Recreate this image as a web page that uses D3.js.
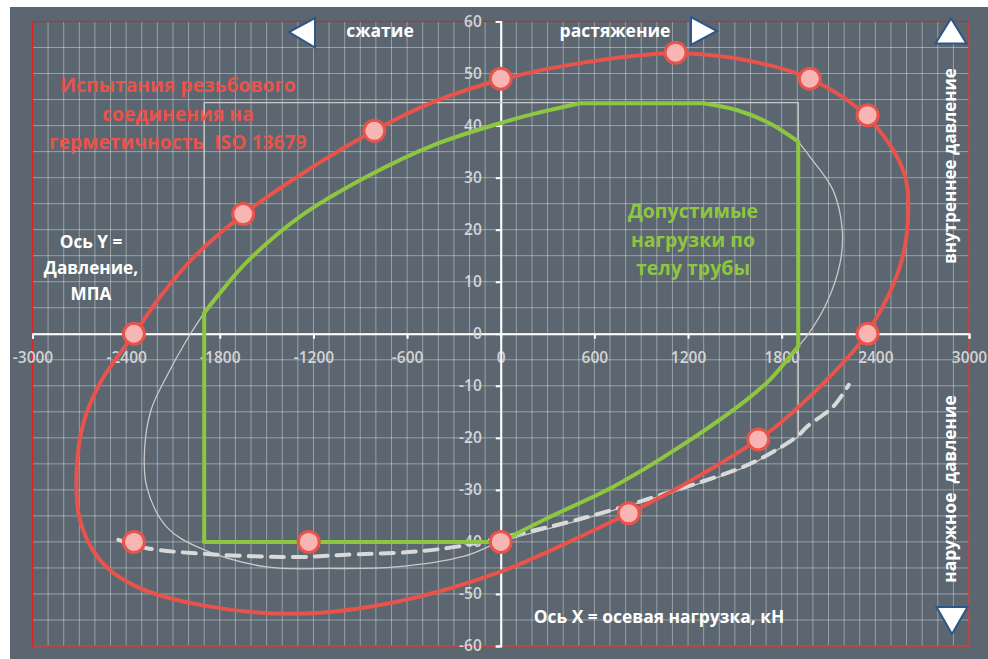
<!DOCTYPE html>
<html>
<head>
<meta charset="utf-8">
<script src="https://cdn.jsdelivr.net/npm/d3@7"></script>
<style>
  body { margin: 0; background: #ffffff; }
  svg { display: block; }
  text { font-family: "Open Sans", "Noto Sans", sans-serif; }
</style>
</head>
<body>
<svg id="chart" width="988" height="659"></svg>
<script>
// Axis ticks
const xTicks = [-3000, -2400, -1800, -1200, -600, 0, 600, 1200, 1800, 2400, 3000];
const yTicks = [60, 50, 40, 30, 20, 10, 0, -10, -20, -30, -40, -50, -60];

// Seal test envelope (ISO 13679), closed curve: [axial load kN, pressure MPa]
const testEnvelope = [
  [0, 48.8], [509, 52], [1118, 53.9], [1600, 52.4], [1981, 49], [2344, 41.8],
  [2577, 31.5], [2611, 23.8], [2557, 12.9], [2344, 0], [2152, -6.9], [1789, -17.2],
  [1650, -20.3], [1148, -29.4], [820, -34.5], [508, -39], [0, -45.7], [-667, -51.5],
  [-1300, -53.8], [-1926, -52.1], [-2354, -48.3], [-2568, -43.5], [-2696, -35.8],
  [-2717, -26.2], [-2674, -17.2], [-2568, -9.5], [-2348, 0], [-2170, 7.6],
  [-1950, 15.2], [-1653, 22.85], [-1286, 30.5], [-812, 39], [-434, 44.5]
];

// Test load points
const testPoints = [
  [-2350, 0], [-1650, 23], [-810, 39], [0, 49], [1120, 54], [1980, 49], [2350, 42],
  [2350, 0], [1650, -20.3], [820, -34.5], [0, -40], [-1230, -40], [-2350, -40]
];

// Pipe body allowable loads (green), pieces with straight edges and curved corners
const bodyLeftEdge   = [[-1900, -40], [-1900, 4]];
const bodyUpperArc   = [[-1900, 4], [-1797, 7.9], [-1626, 13.8], [-1286, 22.5], [-857, 30.2],
                        [-434, 36.2], [0, 40.5], [230, 42.4], [510, 44.3]];
const bodyTop        = [[510, 44.3], [1298, 44.3]];
const bodyRightArc   = [[1298, 44.3], [1511, 43], [1725, 40.4], [1906, 36.9]];
const bodyRightEdge  = [[1906, 36.9], [1906, -2.4]];
const bodyLowerArc   = [[1906, -2.4], [1725, -8.8], [1575, -12.7], [1148, -21.7], [721, -29.4],
                        [294, -35.5], [0, -40]];
const bodyBottom     = [[0, -40], [-1900, -40]];

// Thin grey limit lines
const limitFrame     = [[-1900, -40], [-1900, 44.4], [1906, 44.4], [1906, 36.9]];
const limitFrameLow  = [[1906, -2.4], [1906, -19.8]];
const limitRightArc  = [[1906, 36.9], [1981, 34], [2129, 27.6], [2188, 20], [2174, 13.6],
                        [2088, 5.9], [1960, -0.5], [1906, -2.4]];
const limitLowerArc  = [[1906, -19.8], [1789, -22], [1575, -25.5], [1148, -30], [508, -35.8],
                        [0, -40], [-240, -42.8], [-667, -44.8], [-1094, -45.1], [-1500, -44.8],
                        [-1926, -41.2], [-2141, -37.1], [-2268, -29.4], [-2282, -22.3],
                        [-2240, -14.6], [-2141, -8.2], [-2012, -1.2], [-1900, 4]];

// Dashed connection limit line
const connectionLimit = [
  [-2450, -39.6], [-2267, -41.2], [-1840, -42.4], [-1285, -42.9], [-1017, -42.5],
  [-560, -41.9], [-281, -40.9], [0, -39.2], [508, -35.6], [1148, -29.8], [1575, -25.3],
  [1789, -21.9], [1905, -19.6], [1960, -17.9], [2130, -14], [2230, -9.8]
];

const svg = d3.select("#chart");
const W = 988, H = 659;

// Panel background
svg.append("rect").attr("x", 10).attr("y", 7).attr("width", W - 10).attr("height", H - 7)
  .attr("fill", "#5b6670");

const x = d3.scaleLinear().domain([-3000, 3000]).range([32.5, 969]);
const y = d3.scaleLinear().domain([-60, 60]).range([646, 21.5]);

// Grid
const grid = svg.append("g").attr("stroke", "rgba(255,255,255,0.38)").attr("stroke-width", 1);
grid.selectAll("line.v").data(d3.range(-3000, 3001, 100)).join("line")
  .attr("x1", d => x(d)).attr("x2", d => x(d)).attr("y1", y(60)).attr("y2", y(-60));
grid.selectAll("line.h").data(d3.range(-60, 61, 5)).join("line")
  .attr("x1", x(-3000)).attr("x2", x(3000)).attr("y1", d => y(d)).attr("y2", d => y(d));

// Plot area frame
svg.append("rect").attr("x", x(-3000)).attr("y", y(60))
  .attr("width", x(3000) - x(-3000)).attr("height", y(-60) - y(60))
  .attr("fill", "none").attr("stroke", "#e0201c").attr("stroke-width", 1.2);

// Axes
const fmt = d => String(d);
const xAxis = svg.append("g").attr("transform", `translate(0,${y(0)})`)
  .call(d3.axisBottom(x).tickValues(xTicks).tickFormat(fmt).tickSize(5).tickSizeOuter(5).tickPadding(13));
const yAxis = svg.append("g").attr("transform", `translate(${x(0)},0)`)
  .call(d3.axisLeft(y).tickValues(yTicks).tickFormat(fmt).tickSize(5).tickSizeOuter(5).tickPadding(14));
[xAxis, yAxis].forEach(a => {
  a.selectAll("path.domain").attr("stroke", "#ffffff").attr("stroke-width", 2);
  a.selectAll(".tick line").attr("stroke", "#ffffff").attr("stroke-width", 2);
  a.selectAll(".tick text").attr("fill", "#d4d4d4").attr("font-size", 15.5)
    .attr("font-weight", 600).attr("font-family", "'Open Sans', sans-serif");
});

const lin = d3.line().x(d => x(d[0])).y(d => y(d[1]));
const smooth = d3.line().x(d => x(d[0])).y(d => y(d[1])).curve(d3.curveCatmullRom.alpha(0.5));
const closed = d3.line().x(d => x(d[0])).y(d => y(d[1])).curve(d3.curveCatmullRomClosed.alpha(0.5));

function draw(gen, data, stroke, width, dash) {
  const p = svg.append("path").attr("d", gen(data)).attr("fill", "none")
    .attr("stroke", stroke).attr("stroke-width", width)
    .attr("stroke-linecap", "round").attr("stroke-linejoin", "round");
  if (dash) p.attr("stroke-dasharray", dash);
  return p;
}

// Grey limit lines
const grey = "#c9c9c9";
draw(lin, limitFrame, grey, 1.3);
draw(lin, limitFrameLow, grey, 1.3);
draw(smooth, limitRightArc, grey, 1.3);
draw(smooth, limitLowerArc, grey, 1.3);

// Dashed line
draw(smooth, connectionLimit, "#d9d9d9", 4, "13 9");

// Pipe body envelope
const green = "#8dc63f";
draw(lin, bodyLeftEdge, green, 4);
draw(smooth, bodyUpperArc, green, 4);
draw(lin, bodyTop, green, 4);
draw(smooth, bodyRightArc, green, 4);
draw(lin, bodyRightEdge, green, 4);
draw(smooth, bodyLowerArc, green, 4);
draw(lin, bodyBottom, green, 4);

// Test envelope
const red = "#e8534b";
draw(closed, testEnvelope, red, 4);

// Test points
svg.append("g").selectAll("circle").data(testPoints).join("circle")
  .attr("cx", d => x(d[0])).attr("cy", d => y(d[1])).attr("r", 10.5)
  .attr("fill", "#f7b6b4").attr("stroke", red).attr("stroke-width", 3);

// Texts
function lines(arr, cx, y0, dy, size, fill) {
  const t = svg.append("text").attr("text-anchor", "middle").attr("font-weight", 700)
    .attr("font-size", size).attr("fill", fill).style("white-space", "pre");
  arr.forEach((s, i) => t.append("tspan").attr("x", cx).attr("y", y0 + i * dy).text(s));
  return t;
}
lines(["Испытания резьбового", "соединения на", "герметичность  ISO 13679"], 178, 92, 28.5, 19.3, "#e8534b");
lines(["Ось Y =", "Давление,", "МПА"], 91, 248, 26, 17.2, "#ffffff");
lines(["Допустимые", "нагрузки по", "телу трубы"], 693, 218, 28.5, 19.5, "#8dc63f");
lines(["Ось X = осевая нагрузка, кН"], 659, 623, 0, 17.4, "#ffffff");
lines(["сжатие"], 380, 37, 0, 17.5, "#ffffff");
lines(["растяжение"], 615, 37, 0, 17.5, "#ffffff");

svg.append("text").attr("transform", "translate(956,166) rotate(-90)")
  .attr("text-anchor", "middle").attr("font-weight", 700).attr("font-size", 17)
  .attr("fill", "#ffffff").text("внутреннее давление");
svg.append("text").attr("transform", "translate(956,489) rotate(-90)")
  .attr("text-anchor", "middle").attr("font-weight", 700).attr("font-size", 17.3)
  .attr("fill", "#ffffff").style("white-space", "pre").text("наружное  давление");

// Direction arrows
const arrows = [
  [[289, 32], [315, 18], [315, 47.5]],
  [[717, 31], [691, 17], [691, 45]],
  [[951, 18.5], [935.5, 43.5], [966.5, 43.5]],
  [[952, 634], [936.5, 607], [967.5, 607]]
];
svg.append("g").selectAll("path").data(arrows).join("path")
  .attr("d", d => "M" + d.join("L") + "Z")
  .attr("fill", "#ffffff").attr("stroke", "#2f568a").attr("stroke-width", 2)
  .attr("stroke-linejoin", "miter");
</script>
</body>
</html>
